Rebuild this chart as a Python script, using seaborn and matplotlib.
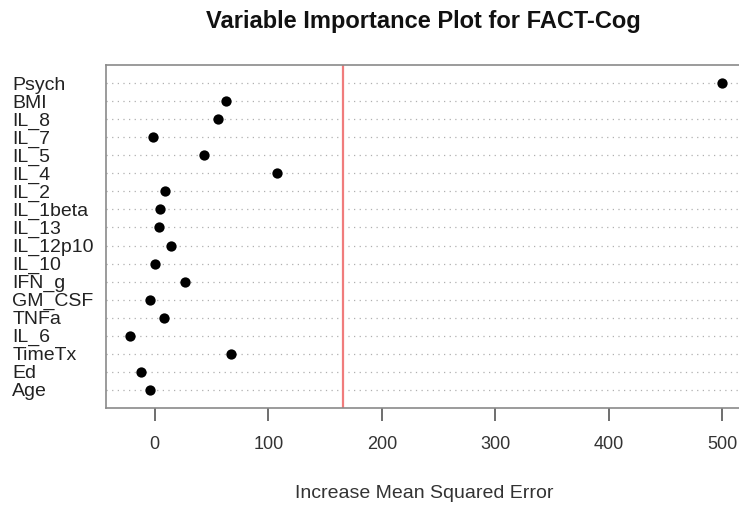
import matplotlib
matplotlib.use("Agg")
import matplotlib.pyplot as plt
import seaborn as sns
import pandas as pd

# variables in the order they appear from top to bottom
variables = ["Psych", "BMI", "IL_8", "IL_7", "IL_5", "IL_4", "IL_2", "IL_1beta",
             "IL_13", "IL_12p10", "IL_10", "IFN_g", "GM_CSF", "TNFa", "IL_6",
             "TimeTx", "Ed", "Age"]
importance = [500, 63, 56, -2, 43, 108, 9, 5, 4, 14, 0, 27, -4, 8, -22, 67, -12, -4]
cutoff = 166
x_ticks = [0, 100, 200, 300, 400, 500]

df = pd.DataFrame({"variable": variables, "inc_mse": importance})

sns.set_style("white")
plt.rcParams["font.family"] = ["Liberation Sans", "DejaVu Sans"]

fig = plt.figure(figsize=(7.39, 5.07), dpi=100)
ax = fig.add_axes([106 / 739, 99 / 507, 639 / 739, 343 / 507])

n = len(variables)
# dotted row guides like R's dotchart
for i in range(n):
    ax.axhline(i, color="#b0b0b0", lw=0.9, ls=(0, (1, 3.5)), zorder=1)

sns.scatterplot(data=df, x="inc_mse", y="variable", color="black", s=55,
                edgecolor="black", linewidth=0, zorder=3, ax=ax)
ax.axvline(cutoff, color="#f07c7c", lw=1.6, zorder=2)

ax.set_xlim(-43, 520)
ax.set_ylim(n, -1)
ax.set_xticks(x_ticks)
ax.set_xticklabels([str(t) for t in x_ticks], fontsize=13, color="#333333")
ax.set_yticks(range(n))
ax.set_yticklabels(variables, fontsize=14, color="#222222")
for lab in ax.get_yticklabels():
    lab.set_ha("left")
ax.tick_params(axis="y", length=0, pad=67.5)
ax.tick_params(axis="x", length=9, width=1.2, color="#555555", pad=11, direction="out")
ax.xaxis.set_ticks_position("bottom")

for sp in ax.spines.values():
    sp.set_color("#8a8a8a")
    sp.set_linewidth(1.2)

ax.set_xlabel("")
ax.set_ylabel("")
fig.text(423 / 739, 1 - 21.5 / 507, "Variable Importance Plot for FACT-Cog",
         ha="center", va="center", fontsize=17, fontweight="bold", color="#111111")
fig.text(424 / 739, 1 - 494 / 507, "Increase Mean Squared Error",
         ha="center", va="center", fontsize=14, color="#333333")

fig.savefig("out.png", dpi=100)
